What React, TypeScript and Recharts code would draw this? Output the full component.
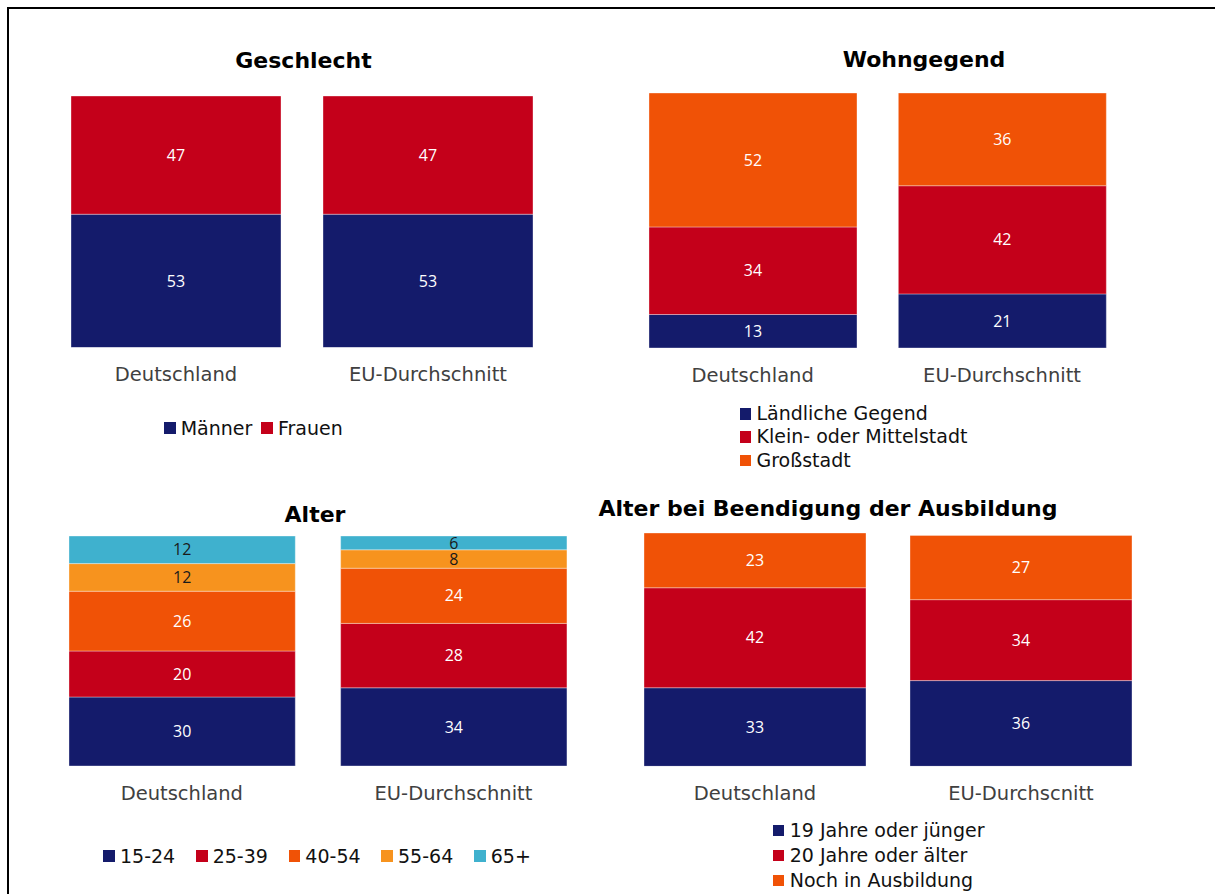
import React from 'react';
import { BarChart, Bar, XAxis, YAxis, LabelList, Legend } from 'recharts';

// ---------- data ----------
const categories = ['Deutschland', 'EU-Durchschnitt'];
const ausbildungCategories = ['Deutschland', 'EU-Durchscnitt'];

const geschlechtMaenner = [53, 53];
const geschlechtFrauen = [47, 47];

const wohnLaendlich = [13, 21];
const wohnKleinMittel = [34, 42];
const wohnGross = [52, 36];

const alter1524 = [30, 34];
const alter2539 = [20, 28];
const alter4054 = [26, 24];
const alter5564 = [12, 8];
const alter65 = [12, 6];

const ausb19 = [33, 36];
const ausb20 = [42, 34];
const ausbNoch = [23, 27];

const titles = ['Geschlecht', 'Wohngegend', 'Alter', 'Alter bei Beendigung der Ausbildung'];

// ---------- colours ----------
const NAVY = '#141b6b';
const RED = '#c4001a';
const ORANGE = '#f05206';
const LIGHTORANGE = '#f7931e';
const CYAN = '#3fb1ce';

type Series = { key: string; name: string; values: number[]; color: string; labelColor: string };

const geschlechtSeries: Series[] = [
  { key: 'm', name: 'Männer', values: geschlechtMaenner, color: NAVY, labelColor: '#ffffff' },
  { key: 'f', name: 'Frauen', values: geschlechtFrauen, color: RED, labelColor: '#ffffff' },
];
const wohnSeries: Series[] = [
  { key: 'l', name: 'Ländliche Gegend', values: wohnLaendlich, color: NAVY, labelColor: '#ffffff' },
  { key: 'k', name: 'Klein- oder Mittelstadt', values: wohnKleinMittel, color: RED, labelColor: '#ffffff' },
  { key: 'g', name: 'Großstadt', values: wohnGross, color: ORANGE, labelColor: '#ffffff' },
];
const alterSeries: Series[] = [
  { key: 'a1', name: '15-24', values: alter1524, color: NAVY, labelColor: '#ffffff' },
  { key: 'a2', name: '25-39', values: alter2539, color: RED, labelColor: '#ffffff' },
  { key: 'a3', name: '40-54', values: alter4054, color: ORANGE, labelColor: '#ffffff' },
  { key: 'a4', name: '55-64', values: alter5564, color: LIGHTORANGE, labelColor: '#1a1a1a' },
  { key: 'a5', name: '65+', values: alter65, color: CYAN, labelColor: '#1a1a1a' },
];
const ausbSeries: Series[] = [
  { key: 'b1', name: '19 Jahre oder jünger', values: ausb19, color: NAVY, labelColor: '#ffffff' },
  { key: 'b2', name: '20 Jahre oder älter', values: ausb20, color: RED, labelColor: '#ffffff' },
  { key: 'b3', name: 'Noch in Ausbildung', values: ausbNoch, color: ORANGE, labelColor: '#ffffff' },
];

function buildData(cats: string[], series: Series[]) {
  return cats.map((c, i) => {
    const row: Record<string, any> = { name: c };
    series.forEach((s) => {
      row[s.key] = s.values[i];
    });
    return row;
  });
}

type LegendCfg = {
  x: number;
  y: number;
  column: boolean;
  rowH: number;
  square: number;
  gap: number;
  itemWidth?: number;
  itemGap?: number;
};

type PanelProps = {
  cats: string[];
  series: Series[];
  plot: { x: number; y: number; w: number; h: number };
  barSize: number;
  legend: LegendCfg;
};

const EXTRA = 150;

function Panel({ cats, series, plot, barSize, legend }: PanelProps) {
  const data = buildData(cats, series);
  const totals = cats.map((_, i) => series.reduce((a, s) => a + s.values[i], 0));
  const max = Math.max(...totals);
  const left = plot.x - 10;
  const top = plot.y - 20;
  const width = plot.w + 20;
  const height = plot.h + 20 + EXTRA;
  return (
    <div style={{ position: 'absolute', left, top }}>
      <BarChart
        width={width}
        height={height}
        data={data}
        margin={{ top: 20, right: 10, bottom: EXTRA - 40, left: 10 }}
        barSize={barSize}
      >
        <XAxis
          dataKey="name"
          height={40}
          tickLine={false}
          axisLine={false}
          tickMargin={14}
          interval={0}
          tick={{ fill: '#404040', fontSize: 19.5, fontFamily: 'DejaVu Sans' }}
        />
        <YAxis hide type="number" domain={[0, max]} allowDataOverflow />
        {series.map((s) => (
          <Bar
            key={s.key}
            dataKey={s.key}
            name={s.name}
            stackId="a"
            fill={s.color}
            stroke="#ffffff"
            strokeOpacity={0.35}
            strokeWidth={1}
            isAnimationActive={false}
          >
            <LabelList
              dataKey={s.key}
              position="center"
              fill={s.labelColor}
              fontFamily="Open Sans"
              fontSize={16}
            />
          </Bar>
        ))}
        <Legend
          layout="horizontal"
          verticalAlign="middle"
          align="center"
          wrapperStyle={{ left: legend.x - left, top: legend.y - top, width: 'auto', height: 'auto' }}
          content={(props: any) => {
            const payload = [...(props.payload || [])].sort(
              (a: any, b: any) =>
                series.findIndex((s) => s.key === a.dataKey) - series.findIndex((s) => s.key === b.dataKey)
            );
            return (
              <div style={{ display: 'flex', flexDirection: legend.column ? 'column' : 'row' }}>
                {payload.map((p: any) => (
                  <div
                    key={String(p.dataKey)}
                    style={{
                      display: 'flex',
                      alignItems: 'center',
                      height: legend.rowH,
                      width: legend.itemWidth,
                      marginRight: legend.itemGap || 0,
                    }}
                  >
                    <span
                      style={{
                        display: 'block',
                        width: legend.square,
                        height: legend.square,
                        background: p.color,
                        marginRight: legend.gap,
                        flex: 'none',
                      }}
                    />
                    <span
                      style={{
                        fontFamily: 'DejaVu Sans',
                        fontSize: 19,
                        color: '#111111',
                        lineHeight: legend.rowH + 'px',
                        whiteSpace: 'nowrap',
                      }}
                    >
                      {p.value}
                    </span>
                  </div>
                ))}
              </div>
            );
          }}
        />
      </BarChart>
    </div>
  );
}

const titlePos = [
  { x: 303.5, y: 68 },
  { x: 924, y: 67 },
  { x: 315, y: 522 },
  { x: 828, y: 516 },
];

export default function App() {
  return (
    <div style={{ position: 'absolute', left: 0, top: 0, width: 1215, height: 894, overflow: 'hidden', background: '#fff' }}>
      <style>{'html,body{overflow:hidden;}'}</style>
      <div
        style={{
          position: 'absolute',
          left: 7,
          top: 7,
          width: 1215,
          height: 900,
          borderTop: '2px solid #000',
          borderLeft: '2px solid #000',
        }}
      />
      <svg
        width={1215}
        height={894}
        style={{ position: 'absolute', left: 0, top: 0, pointerEvents: 'none' }}
      >
        {titles.map((t, i) => (
          <text
            key={t}
            x={titlePos[i].x}
            y={titlePos[i].y}
            textAnchor="middle"
            fontFamily="DejaVu Sans"
            fontWeight="bold"
            fontSize={22}
            fill="#000"
          >
            {t}
          </text>
        ))}
      </svg>
      <Panel
        cats={categories}
        series={geschlechtSeries}
        plot={{ x: 50, y: 96, w: 504, h: 251.5 }}
        barSize={210}
        legend={{ x: 164, y: 416, column: false, rowH: 24, square: 12, gap: 4.7, itemGap: 9 }}
      />
      <Panel
        cats={categories}
        series={wohnSeries}
        plot={{ x: 627.7, y: 92.5, w: 498.7, h: 255 }}
        barSize={208}
        legend={{ x: 740, y: 402.1, column: true, rowH: 23.35, square: 11.5, gap: 5 }}
      />
      <Panel
        cats={categories}
        series={alterSeries}
        plot={{ x: 45.7, y: 536, w: 543.3, h: 230 }}
        barSize={226.3}
        legend={{ x: 103.3, y: 844.2, column: false, rowH: 24, square: 11.7, gap: 5, itemWidth: 92.7 }}
      />
      <Panel
        cats={ausbildungCategories}
        series={ausbSeries}
        plot={{ x: 622, y: 532.7, w: 532, h: 233.3 }}
        barSize={222}
        legend={{ x: 773.2, y: 818.4, column: true, rowH: 24.9, square: 11, gap: 5.5 }}
      />
    </div>
  );
}
